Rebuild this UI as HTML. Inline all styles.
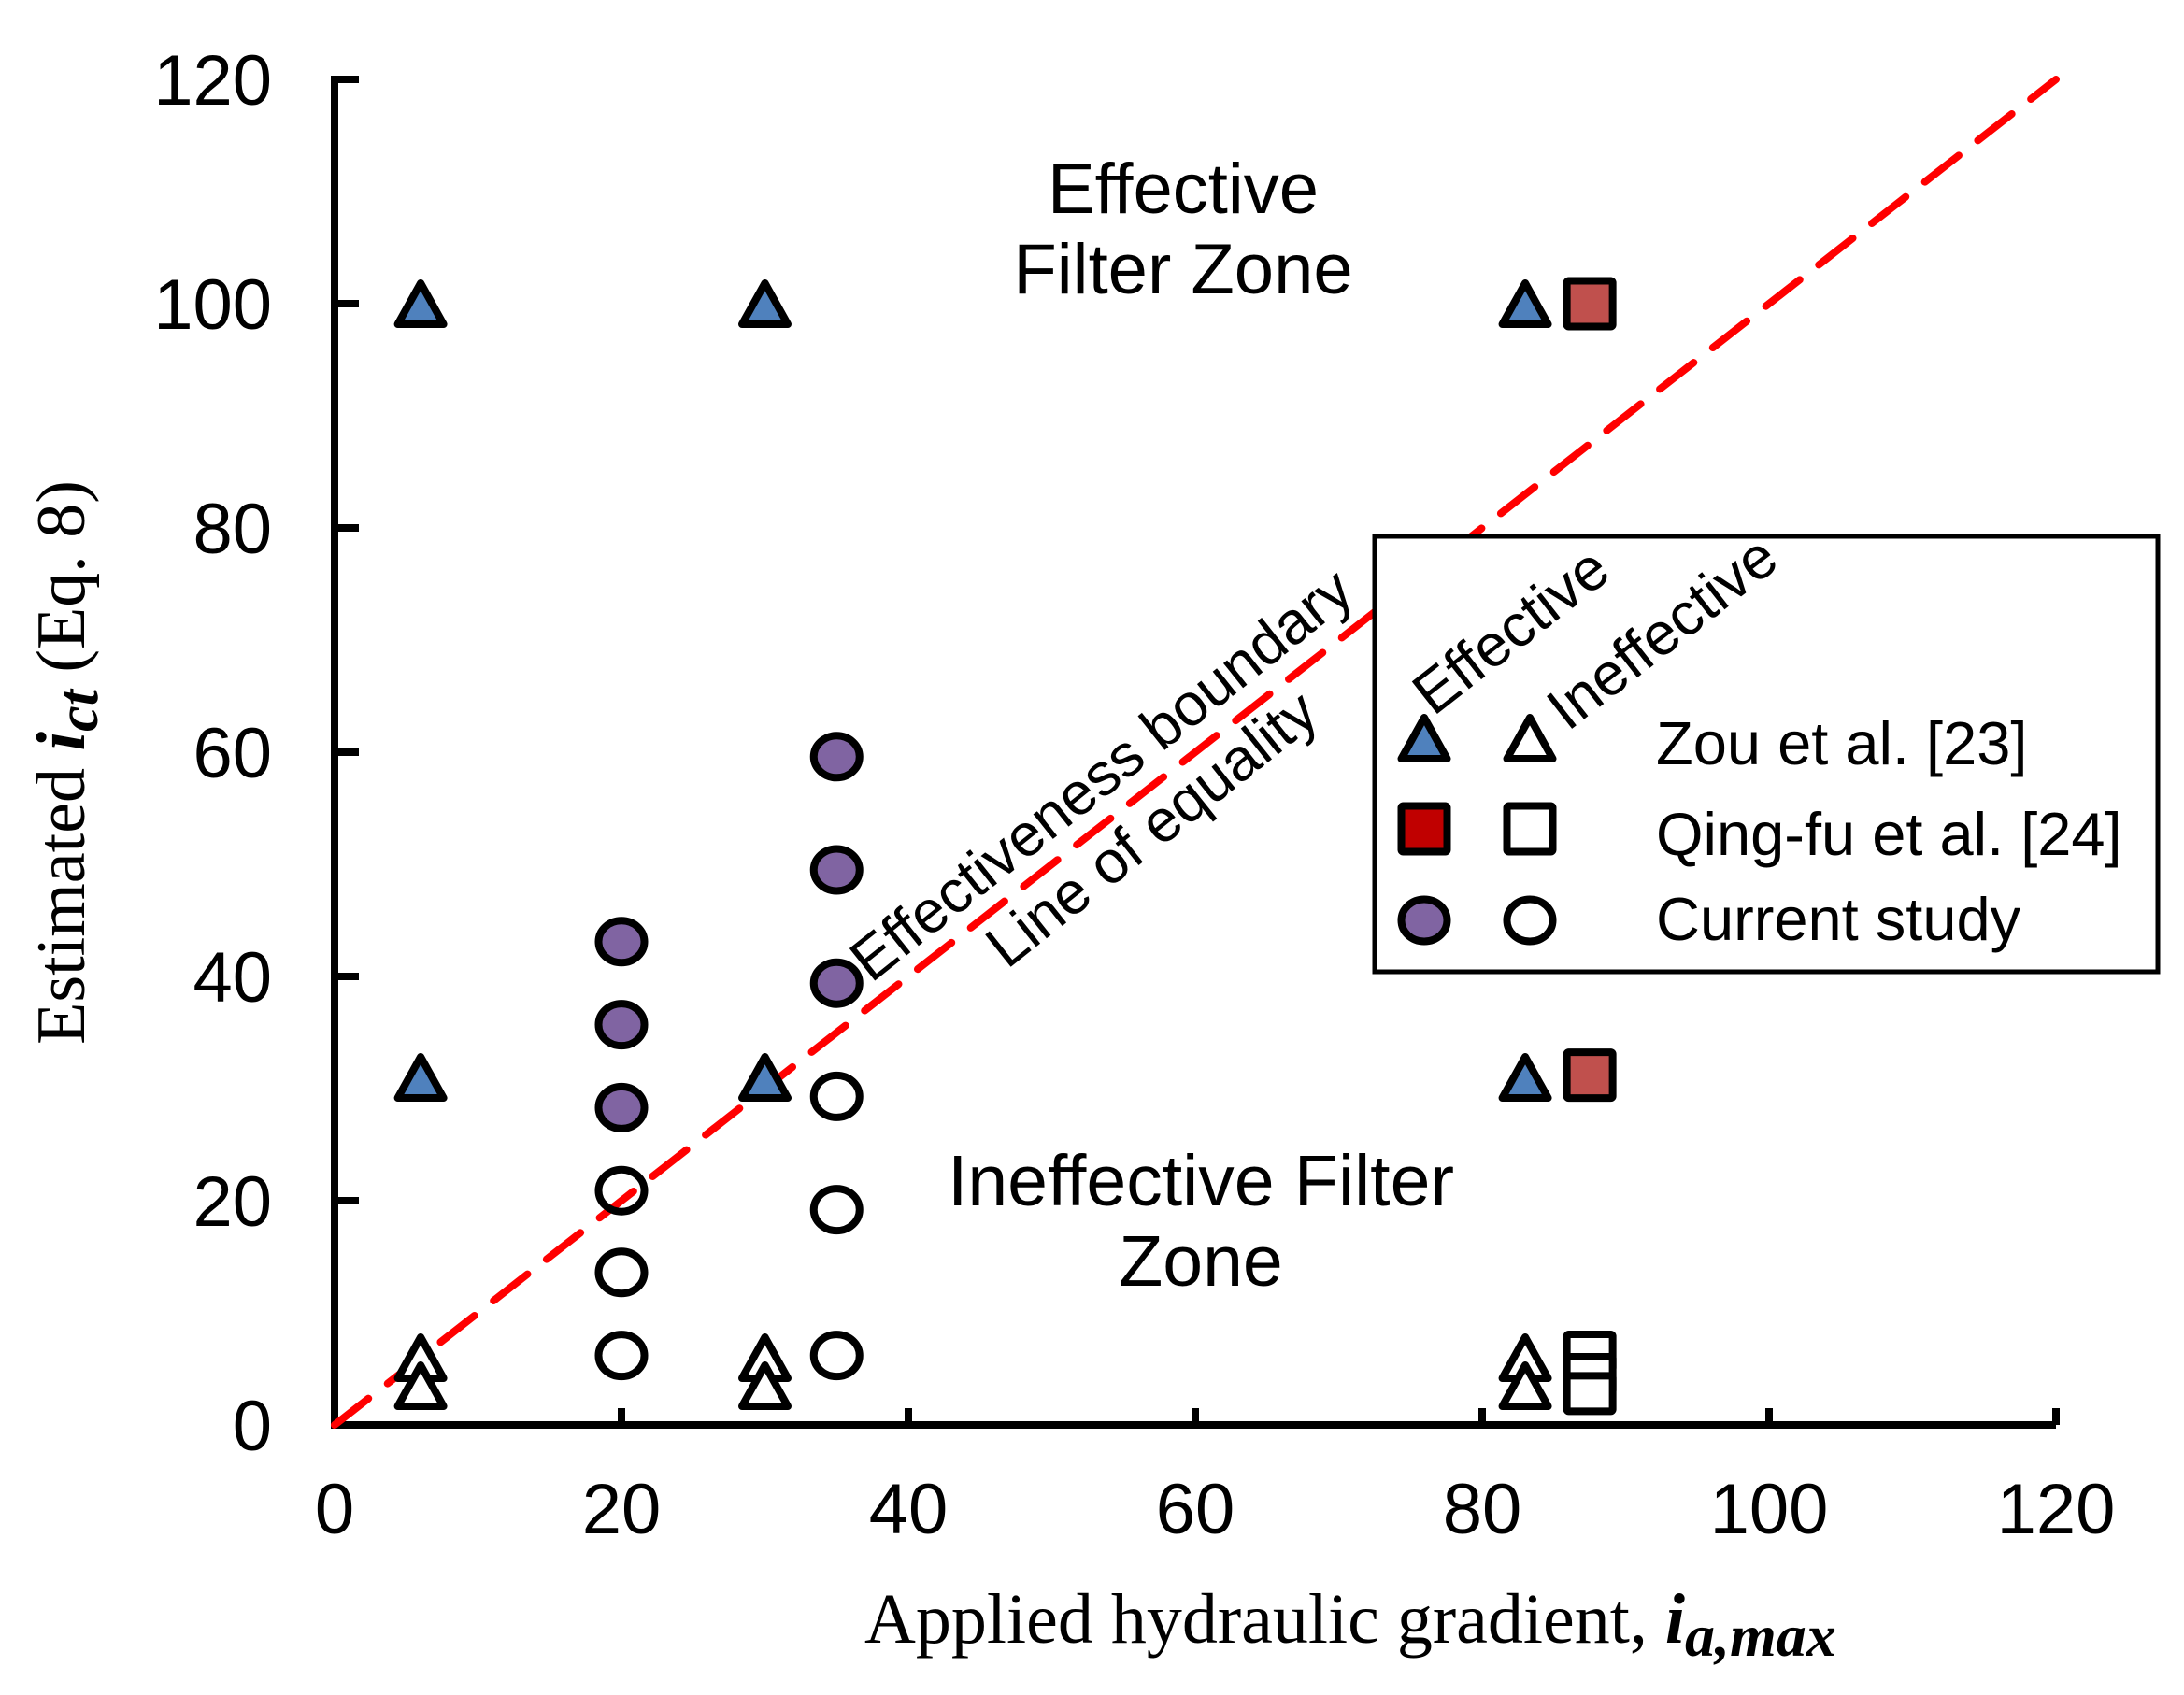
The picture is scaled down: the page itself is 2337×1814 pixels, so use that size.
<!DOCTYPE html>
<html><head><meta charset="utf-8"><style>
html,body{margin:0;padding:0;background:#fff;}
svg{display:block;}
.t{font-family:"Liberation Sans",Arial,sans-serif;fill:#000;}
.s{font-family:"Liberation Serif","Times New Roman",serif;fill:#000;}
</style></head><body>
<svg id="chart" width="2337" height="1814" viewBox="0 0 2337 1814" xmlns="http://www.w3.org/2000/svg">
<g id="axes"></g>
<line id="eq-line" stroke="#ff0000" stroke-width="8" stroke-dasharray="46,26" stroke-linecap="round"/>
<g id="marks"></g>
<text class="t" x="1266" y="228" font-size="76" text-anchor="middle">Effective</text>
<text class="t" x="1266" y="314" font-size="76" text-anchor="middle">Filter Zone</text>
<text class="t" x="1285" y="1290" font-size="77" text-anchor="middle">Ineffective Filter</text>
<text class="t" x="1285" y="1376" font-size="77" text-anchor="middle">Zone</text>
<text class="t" font-size="64" text-anchor="middle" transform="translate(1192,846) rotate(-38.5)">Effectiveness boundary</text>
<text class="t" font-size="64" text-anchor="middle" transform="translate(1246,904) rotate(-38.5)">Line of equality</text>
<text class="s" x="925" y="1758" font-size="76">Applied hydraulic gradient, <tspan font-style="italic" font-weight="bold">i</tspan><tspan font-style="italic" font-weight="bold" font-size="64" dy="14">a,max</tspan></text>
<text class="s" font-size="74" text-anchor="middle" transform="translate(90,816) rotate(-90)">Estimated <tspan font-style="italic" font-weight="bold">i</tspan><tspan font-style="italic" font-weight="bold" font-size="62" dy="14">ct</tspan><tspan dy="-14"> (Eq. 8)</tspan></text>
<g id="legend">
<rect x="1471" y="574" width="838" height="466" fill="#fff" stroke="#000" stroke-width="5"/>
<text class="t" font-size="64" text-anchor="middle" transform="translate(1630,692) rotate(-38)">Effective</text>
<text class="t" font-size="64" text-anchor="middle" transform="translate(1792,694) rotate(-38)">Ineffective</text>
<g id="legend-marks"></g>
<text class="t" x="1772" y="818" font-size="65">Zou et al. [23]</text>
<text class="t" x="1772" y="915" font-size="65">Qing-fu et al. [24]</text>
<text class="t" x="1772" y="1006" font-size="65">Current study</text>
</g>
</svg>
<script>
const xTicks = [0,20,40,60,80,100,120];
const yTicks = [0,20,40,60,80,100,120];
const zouEffX = [6,30,83,6,30,83];
const zouEffY = [100,100,100,31,31,31];
const zouIneX = [6,6,30,30,83,83];
const zouIneY = [6,3.5,6,3.5,6,3.5];
const qingEffX = [87.5,87.5];
const qingEffY = [100,31.2];
const qingIneX = [87.5,87.5,87.5];
const qingIneY = [6.5,4.5,2.8];
const curEffX = [20,20,20,35,35,35];
const curEffY = [43.1,35.7,28.3,59.6,49.5,39.4];
const curIneX = [20,20,20,35,35,35];
const curIneY = [20.9,13.6,6.2,29.3,19.2,6.2];
const eqLine = [0,120];

const X0=358, XS=15.35, Y0=1525, YS=12.0;
function sx(v){return X0+v*XS;}
function sy(v){return Y0-v*YS;}
const NS="http://www.w3.org/2000/svg";
function mk(tag,attrs,parent){const e=document.createElementNS(NS,tag);for(const k in attrs)e.setAttribute(k,attrs[k]);parent.appendChild(e);return e;}

const axes=document.getElementById('axes');
let e=mk('line',{x1:X0,y1:Y0,x2:sx(120),y2:Y0,stroke:'#000','stroke-width':8},axes);


e=mk('line',{x1:X0,y1:Y0+4,x2:X0,y2:sy(120)-4,stroke:'#000','stroke-width':8},axes);


xTicks.forEach(v=>{
  let t=mk('line',{x1:sx(v),y1:Y0,x2:sx(v),y2:Y0-18,stroke:'#000','stroke-width':8},axes);
  
  
  let l=mk('text',{x:sx(v),y:Y0+116,'font-size':76,'text-anchor':'middle',class:'t'},axes);
  l.textContent=v;
  
  
});
yTicks.forEach(v=>{
  let t=mk('line',{x1:X0,y1:sy(v),x2:X0+26,y2:sy(v),stroke:'#000','stroke-width':8},axes);
  
  
  let l=mk('text',{x:291,y:sy(v)+27,'font-size':76,'text-anchor':'end',class:'t'},axes);
  l.textContent=v;
  
  
});
const eq=document.getElementById('eq-line');
eq.setAttribute('x1',sx(eqLine[0]));eq.setAttribute('y1',sy(eqLine[0]));
eq.setAttribute('x2',sx(eqLine[1]));eq.setAttribute('y2',sy(eqLine[1]));

function tri(cx,cy,fill,parent){
  return mk('path',{d:`M${cx} ${cy-22}L${cx+24.5} ${cy+22}L${cx-24.5} ${cy+22}Z`,fill:fill,stroke:'#000','stroke-width':8,'stroke-linejoin':'round'},parent);
}
function sq(cx,cy,fill,parent,h){
  h=h||49;
  return mk('rect',{x:cx-24.5,y:cy-h/2,width:49,height:h,rx:2,fill:fill,stroke:'#000','stroke-width':8},parent);
}
function circ(cx,cy,fill,parent){
  return mk('ellipse',{cx:cx,cy:cy,rx:24.5,ry:22.5,fill:fill,stroke:'#000','stroke-width':8},parent);
}
const marks=document.getElementById('marks');
zouIneX.forEach((x,i)=>{const m=tri(sx(x),sy(zouIneY[i]),'#fff',marks);
  
  });
zouEffX.forEach((x,i)=>{const m=tri(sx(x),sy(zouEffY[i]),'#4f81bd',marks);
  
  });
qingIneX.forEach((x,i)=>{const m=sq(sx(x),sy(qingIneY[i]),'#fff',marks,38);
  
  });
qingEffX.forEach((x,i)=>{const m=sq(sx(x),sy(qingEffY[i]),'#c0504d',marks);
  
  });
curIneX.forEach((x,i)=>{const m=circ(sx(x),sy(curIneY[i]),'none',marks);
  
  });
curEffX.forEach((x,i)=>{const m=circ(sx(x),sy(curEffY[i]),'#8064a2',marks);
  
  });

const lm=document.getElementById('legend-marks');
let a=tri(1524,790,'#4f81bd',lm);


a=tri(1637,790,'#fff',lm);


a=sq(1524,887,'#c00000',lm);


a=sq(1637,887,'#fff',lm);


a=circ(1524,985,'#8064a2',lm);


a=circ(1637,985,'#fff',lm);


</script>
</body></html>
